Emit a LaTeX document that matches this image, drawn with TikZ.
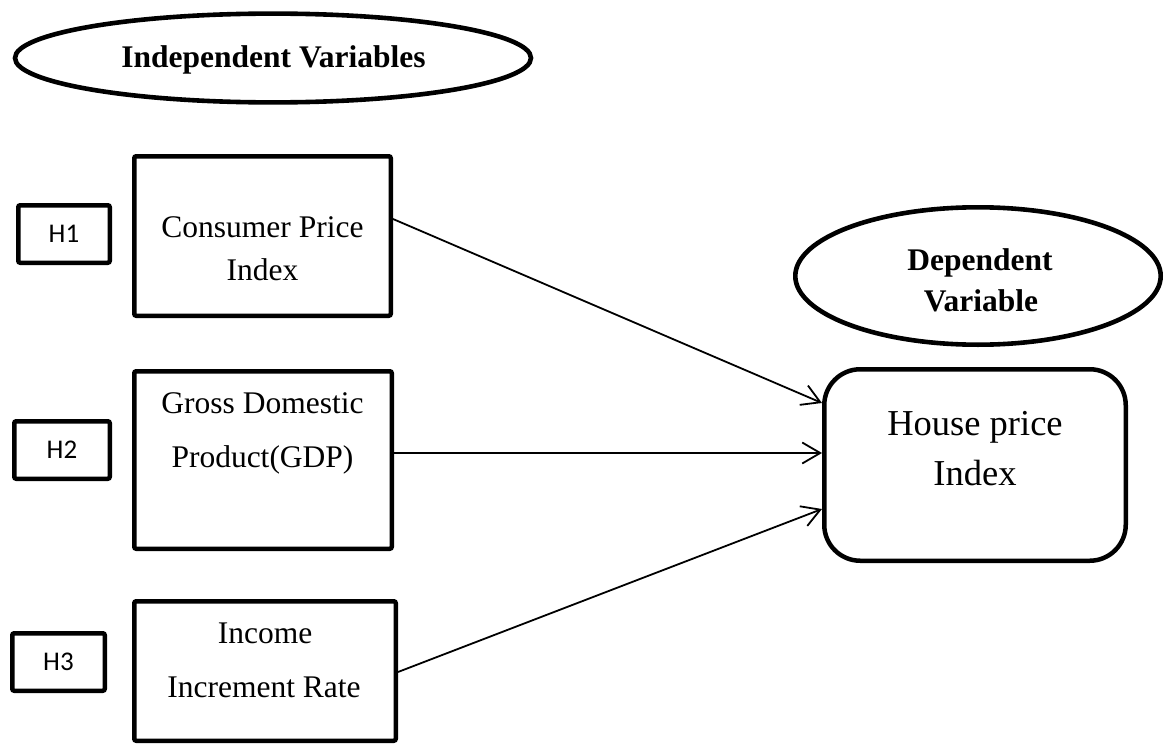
\documentclass[tikz,border=0pt]{standalone}
\usepackage{fontspec}
\setmainfont{Liberation Serif}
\newfontfamily\hfont{Carlito}
\usetikzlibrary{shapes.geometric,arrows.meta}
\tikzset{
  varbox/.style={draw, line width=4.5pt, rounded corners=2pt, inner sep=0pt},
  hbox/.style={draw, line width=4.5pt, rounded corners=2pt, inner sep=0pt,
    minimum height=57.5pt, font=\hfont\fontsize{27}{31}\selectfont},
  housebox/.style={draw, line width=4.5pt, rounded corners=36pt, inner sep=0pt,
    minimum width=301.5pt, minimum height=191.5pt},
  varell/.style={draw, ellipse, line width=4.6pt, inner sep=0pt},
  txt/.style={anchor=base, inner sep=0pt, font=\fontsize{31.5}{38}\selectfont},
  btxt/.style={anchor=base, inner sep=0pt, font=\bfseries\fontsize{31.5}{38}\selectfont},
  htxt/.style={anchor=base, inner sep=0pt, font=\fontsize{36.5}{44}\selectfont},
  arr/.style={line width=1.8pt, -{Straight Barb[length=18pt,width=21pt]}}
}
\begin{document}
\begin{tikzpicture}[x=1pt,y=-1pt]
\useasboundingbox (0,0) rectangle (1168,744);

% ellipses
\node[varell, minimum width=516pt, minimum height=88.8pt] (indep) at (273,58) {};
\node[btxt] (indeptxt) at (273.5,67.3) {Independent Variables};

\node[varell, minimum width=365.4pt, minimum height=137.4pt] (dep) at (978,276) {};
\node[btxt] (dep1) at (980,270) {Dependent};
\node[btxt] (dep2) at (981,311) {Variable};

% hypothesis boxes
\node[hbox, minimum width=91.5pt] (h1) at (64,234) {H1};
\node[hbox, minimum width=95.5pt] (h2) at (62,450) {H2};
\node[hbox, minimum width=92.5pt] (h3) at (58.5,662) {H3};

% variable boxes
\node[varbox, minimum width=256.5pt, minimum height=159.5pt] (cpi) at (262.5,236) {};
\node[txt] (cpi1) at (262.5,237) {Consumer Price};
\node[txt] (cpi2) at (262.5,280) {Index};

\node[varbox, minimum width=257.5pt, minimum height=177.5pt] (gdp) at (263,460) {};
\node[txt] (gdp1) at (262.5,413) {Gross Domestic};
\node[txt] (gdp2) at (262.5,467) {Product(GDP)};

\node[varbox, minimum width=261.5pt, minimum height=139.5pt] (inc) at (265,671) {};
\node[txt] (inc1) at (265,643) {Income};
\node[txt] (inc2) at (264,697) {Increment Rate};

% dependent box
\node[housebox] (house) at (975,465) {};
\node[htxt] (house1) at (975,435) {House price};
\node[htxt] (house2) at (975,485) {Index};

% connectors
\draw[arr] ([yshift=17pt]cpi.east) -- ([yshift=62pt]house.west);
\draw[arr] ([yshift=7pt]gdp.east) -- ([yshift=12pt]house.west);
\draw[arr] ([yshift=-1pt]inc.east) -- ([yshift=-44pt]house.west);
\end{tikzpicture}
\end{document}
